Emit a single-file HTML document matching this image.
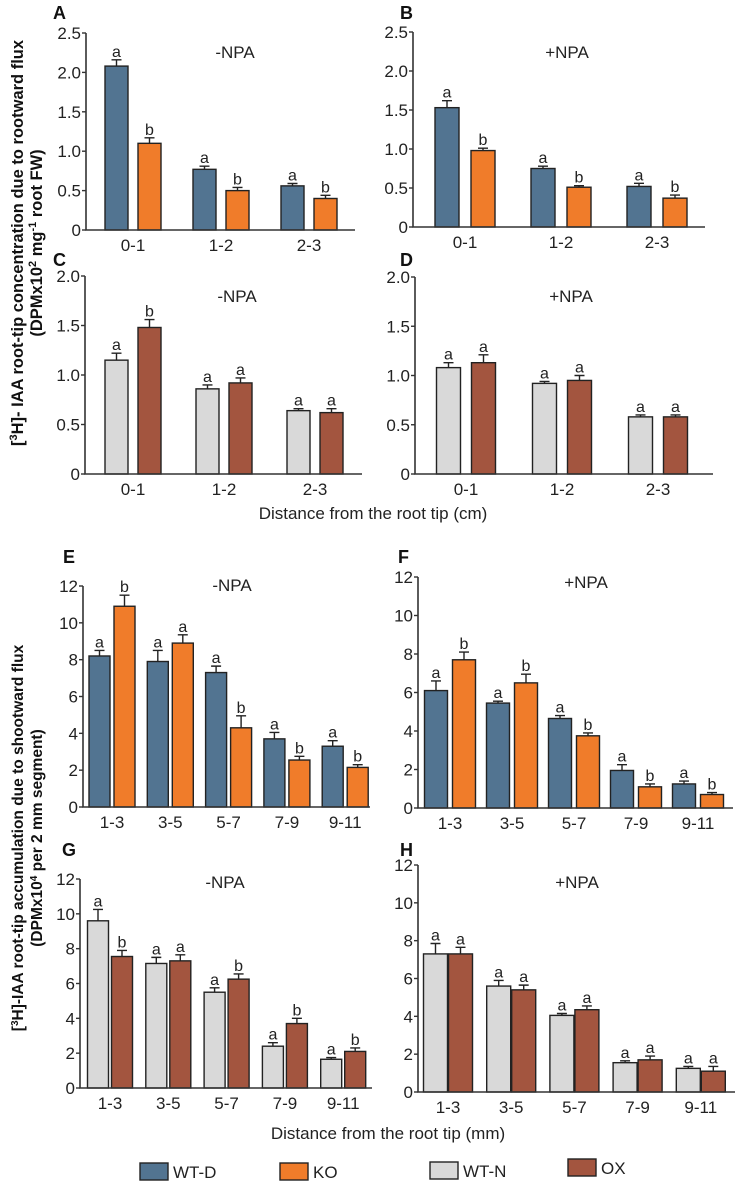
<!DOCTYPE html>
<html><head><meta charset="utf-8">
<style>
html,body{margin:0;padding:0;background:#fff;}
svg{display:block;font-family:"Liberation Sans",Arial,sans-serif;}
</style></head>
<body>
<svg id="fig" width="739" height="1182" viewBox="0 0 739 1182" xmlns="http://www.w3.org/2000/svg">
  <g font-weight="bold" font-size="16.5" fill="#111">
    <text transform="translate(23,243) rotate(-90)" text-anchor="middle">[<tspan font-size="11" dy="-6">3</tspan><tspan dy="6">H]- IAA root-tip concentration due to rootward flux</tspan></text>
    <text transform="translate(42,243) rotate(-90)" text-anchor="middle">(DPMx10<tspan font-size="11" dy="-6">2</tspan><tspan dy="6"> mg</tspan><tspan font-size="11" dy="-6">-1</tspan><tspan dy="6"> root FW)</tspan></text>
  </g>
  <g font-weight="bold" font-size="15.5" fill="#111">
    <text transform="translate(23,838) rotate(-90)" text-anchor="middle">[<tspan font-size="10" dy="-5">3</tspan><tspan dy="5">H]-IAA  root-tip accumulation due to shootward flux</tspan></text>
    <text transform="translate(42,838) rotate(-90)" text-anchor="middle">(DPMx10<tspan font-size="10" dy="-5">4</tspan><tspan dy="5"> per 2 mm segment)</tspan></text>
  </g>
  <text x="373" y="519" text-anchor="middle" font-size="17" fill="#222">Distance  from the root tip (cm)</text>
  <text x="388" y="1139" text-anchor="middle" font-size="17" fill="#222">Distance  from the root tip (mm)</text>
  <g id="legend" font-size="17" fill="#222"></g>
</svg>
<script>
// ---- data ----
const cmCats = ["0-1","1-2","2-3"];
const mmCats = ["1-3","3-5","5-7","7-9","9-11"];
const cmTicks = [0,0.5,1.0,1.5,2.0,2.5];
const cmTickLabels = ["0","0.5","1.0","1.5","2.0","2.5"];
const cmTicksC = [0,0.5,1.0,1.5,2.0];
const cmTickLabelsC = ["0","0.5","1.0","1.5","2.0"];
const mmTicks = [0,2,4,6,8,10,12];
const mmTickLabels = ["0","2","4","6","8","10","12"];

const aWT = [2.08,0.77,0.56];  const aWTErr = [0.08,0.04,0.03];
const aKO = [1.10,0.50,0.40];  const aKOErr = [0.07,0.04,0.04];
const aWTLet = ["a","a","a"];  const aKOLet = ["b","b","b"];
const bWT = [1.53,0.75,0.52];  const bWTErr = [0.09,0.03,0.04];
const bKO = [0.98,0.51,0.37];  const bKOErr = [0.03,0.02,0.04];
const bWTLet = ["a","a","a"];  const bKOLet = ["b","b","b"];
const cWT = [1.15,0.86,0.64];  const cWTErr = [0.07,0.04,0.02];
const cOX = [1.48,0.92,0.62];  const cOXErr = [0.08,0.05,0.04];
const cWTLet = ["a","a","a"];  const cOXLet = ["b","a","a"];
const dWT = [1.08,0.92,0.58];  const dWTErr = [0.05,0.02,0.02];
const dOX = [1.13,0.95,0.58];  const dOXErr = [0.08,0.05,0.02];
const dWTLet = ["a","a","a"];  const dOXLet = ["a","a","a"];
const eWT = [8.2,7.9,7.3,3.7,3.3];     const eWTErr = [0.3,0.6,0.35,0.35,0.3];
const eKO = [10.9,8.9,4.3,2.55,2.15];  const eKOErr = [0.6,0.45,0.65,0.2,0.15];
const eWTLet = ["a","a","a","a","a"];  const eKOLet = ["b","a","b","b","b"];
const fWT = [6.1,5.45,4.65,1.95,1.25]; const fWTErr = [0.5,0.1,0.15,0.3,0.15];
const fKO = [7.7,6.5,3.75,1.1,0.7];    const fKOErr = [0.4,0.45,0.15,0.15,0.1];
const fWTLet = ["a","a","a","a","a"];  const fKOLet = ["b","b","b","b","b"];
const gWT = [9.6,7.15,5.5,2.4,1.65];   const gWTErr = [0.65,0.35,0.25,0.2,0.1];
const gOX = [7.55,7.3,6.25,3.7,2.1];   const gOXErr = [0.35,0.35,0.3,0.3,0.2];
const gWTLet = ["a","a","a","a","a"];  const gOXLet = ["b","a","b","b","b"];
const hWT = [7.3,5.6,4.05,1.55,1.25];  const hWTErr = [0.55,0.3,0.1,0.1,0.1];
const hOX = [7.3,5.4,4.35,1.7,1.1];    const hOXErr = [0.35,0.25,0.2,0.2,0.25];
const hWTLet = ["a","a","a","a","a"];  const hOXLet = ["a","a","a","a","a"];

const C_WTD="#527491", C_KO="#f07c2a", C_WTN="#d9d9d9", C_OX="#a3553f";
const NS="http://www.w3.org/2000/svg";
const svg=document.getElementById('fig');
function mk(tag,attrs,parent){const e=document.createElementNS(NS,tag);for(const k in attrs)e.setAttribute(k,attrs[k]);(parent||svg).appendChild(e);return e;}

const panels=[
 {id:"A",cats:cmCats,s1:aWT,e1:aWTErr,l1:aWTLet,s2:aKO,e2:aKOErr,l2:aKOLet,c1:C_WTD,c2:C_KO,ticks:cmTicks,tl:cmTickLabels,max:2.5,ax:86,y0:230,yt:33,xe:355,c0:133,sp:88,w:23,gap:10,title:"-NPA",tx:235,ty:58,lx:53,ly:19},
 {id:"B",cats:cmCats,s1:bWT,e1:bWTErr,l1:bWTLet,s2:bKO,e2:bKOErr,l2:bKOLet,c1:C_WTD,c2:C_KO,ticks:cmTicks,tl:cmTickLabels,max:2.5,ax:413,y0:227,yt:32,xe:705,c0:465,sp:96,w:24,gap:12,title:"+NPA",tx:567,ty:58,lx:400,ly:19},
 {id:"C",cats:cmCats,s1:cWT,e1:cWTErr,l1:cWTLet,s2:cOX,e2:cOXErr,l2:cOXLet,c1:C_WTN,c2:C_OX,ticks:cmTicksC,tl:cmTickLabelsC,max:2.0,ax:85,y0:474,yt:276,xe:362,c0:133,sp:91,w:23,gap:10,title:"-NPA",tx:237,ty:302,lx:53,ly:266},
 {id:"D",cats:cmCats,s1:dWT,e1:dWTErr,l1:dWTLet,s2:dOX,e2:dOXErr,l2:dOXLet,c1:C_WTN,c2:C_OX,ticks:cmTicksC,tl:cmTickLabelsC,max:2.0,ax:415,y0:474,yt:277,xe:713,c0:466,sp:96,w:24,gap:11,title:"+NPA",tx:571,ty:302,lx:400,ly:266},
 {id:"E",cats:mmCats,s1:eWT,e1:eWTErr,l1:eWTLet,s2:eKO,e2:eKOErr,l2:eKOLet,c1:C_WTD,c2:C_KO,ticks:mmTicks,tl:mmTickLabels,max:12,ax:83,y0:807,yt:586,xe:370,c0:112,sp:58.3,w:21,gap:4,title:"-NPA",tx:232,ty:591,lx:63,ly:563},
 {id:"F",cats:mmCats,s1:fWT,e1:fWTErr,l1:fWTLet,s2:fKO,e2:fKOErr,l2:fKOLet,c1:C_WTD,c2:C_KO,ticks:mmTicks,tl:mmTickLabels,max:12,ax:418,y0:808,yt:577,xe:733,c0:450,sp:62,w:23,gap:5,title:"+NPA",tx:586,ty:588,lx:398,ly:563},
 {id:"G",cats:mmCats,s1:gWT,e1:gWTErr,l1:gWTLet,s2:gOX,e2:gOXErr,l2:gOXLet,c1:C_WTN,c2:C_OX,ticks:mmTicks,tl:mmTickLabels,max:12,ax:80,y0:1088,yt:879,xe:372,c0:110,sp:58.3,w:21,gap:3,title:"-NPA",tx:225,ty:888,lx:62,ly:856},
 {id:"H",cats:mmCats,s1:hWT,e1:hWTErr,l1:hWTLet,s2:hOX,e2:hOXErr,l2:hOXLet,c1:C_WTN,c2:C_OX,ticks:mmTicks,tl:mmTickLabels,max:12,ax:418,y0:1092,yt:865,xe:735,c0:448,sp:63.2,w:24,gap:1,title:"+NPA",tx:577,ty:888,lx:400,ly:856}
];

panels.forEach(p=>{
  const g=mk('g',{});
  
  
  const y=v=>p.y0-(v/p.max)*(p.y0-p.yt);
  const lab=mk('text',{x:p.lx,y:p.ly,'font-size':18,'font-weight':'bold',fill:'#111'},g);lab.textContent=p.id;
  
  
  const t=mk('text',{x:p.tx,y:p.ty,'font-size':17,'text-anchor':'middle',fill:'#222'},g);t.textContent=p.title;
  
  
  p.cats.forEach((c,i)=>{
    const cx=p.c0+i*p.sp;
    [[p.s1,p.e1,p.l1,p.c1,-1],[p.s2,p.e2,p.l2,p.c2,1]].forEach(([s,e,l,col,side])=>{
      const x0= side<0? cx-p.gap/2-p.w : cx+p.gap/2;
      const bc=x0+p.w/2, top=y(s[i]), et=y(s[i]+e[i]);
      const r=mk('rect',{x:x0,y:top,width:p.w,height:p.y0-top,fill:col,stroke:'#222','stroke-width':1.4},g);
      
      
      const eb=mk('path',{d:`M${bc},${top}V${et}M${bc-5},${et}H${bc+5}`,stroke:'#222','stroke-width':1.4,fill:'none'},g);
      
      
      const lt=mk('text',{x:bc,y:et-3,'font-size':16,'text-anchor':'middle',fill:'#222'},g);lt.textContent=l[i];
      
      
    });
    const xl=mk('text',{x:cx,y:p.y0+21,'font-size':17,'text-anchor':'middle',fill:'#222'},g);xl.textContent=c;
    
    
  });
  const ax=mk('path',{d:`M${p.ax},${p.yt}V${p.y0}H${p.xe}`,stroke:'#333','stroke-width':1.6,fill:'none'},g);
  
  
  p.ticks.forEach((v,k)=>{
    const yy=y(v);
    const tk=mk('line',{x1:p.ax-4,x2:p.ax,y1:yy,y2:yy,stroke:'#333','stroke-width':1.4},g);
    
    
    const tl=mk('text',{x:p.ax-5,y:yy+6,'font-size':17,'text-anchor':'end',fill:'#222'},g);tl.textContent=p.tl[k];
    
    
  });
});

const lg=document.getElementById('legend');
[["WT-D",C_WTD,140,1163],["KO",C_KO,280,1163],["WT-N",C_WTN,430,1162],["OX",C_OX,568,1159]].forEach(([n,c,x,yy])=>{
  const r=mk('rect',{x:x,y:yy,width:28,height:17,fill:c,stroke:'#222','stroke-width':1.4},lg);
  
  
  const t=mk('text',{x:x+33,y:yy+15,'font-size':17},lg);t.textContent=n;
  
  
});
</script>
</body></html>
